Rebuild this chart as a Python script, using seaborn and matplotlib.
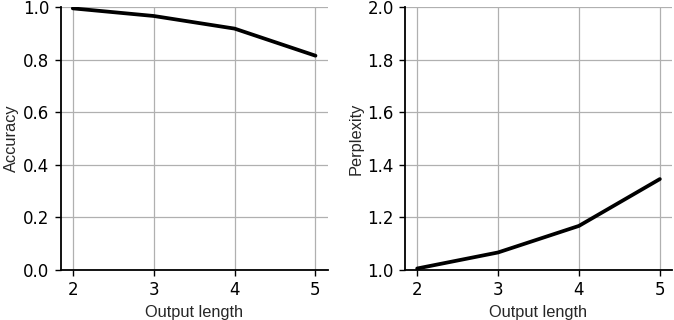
import matplotlib

matplotlib.use("Agg")
import matplotlib.pyplot as plt
import pandas as pd
import seaborn as sns

output_length = [2, 3, 4, 5]
accuracy = [0.995, 0.966, 0.918, 0.815]
perplexity = [1.006, 1.067, 1.168, 1.346]

df = pd.DataFrame(
    {"Output length": output_length, "Accuracy": accuracy, "Perplexity": perplexity}
)

sns.set_style("ticks")
plt.rcParams["font.family"] = ["DejaVu Sans"]

fig, axes = plt.subplots(1, 2, figsize=(6.74, 3.2), dpi=100)
fig.subplots_adjust(left=0.090, right=0.997, bottom=0.156, top=0.978, wspace=0.29)

panels = [("Accuracy", (0.0, 1.0)), ("Perplexity", (1.0, 2.0))]
for ax, (col, ylim) in zip(axes, panels):
    sns.lineplot(data=df, x="Output length", y=col, color="black", linewidth=2.7, ax=ax)
    ax.set_ylim(*ylim)
    ax.set_xticks(output_length)
    ax.set_yticks([ylim[0] + i * 0.2 for i in range(6)])
    ax.yaxis.set_major_formatter(matplotlib.ticker.FormatStrFormatter("%.1f"))
    ax.grid(True, color="#b0b0b0", linewidth=0.9)
    ax.set_axisbelow(True)
    sns.despine(ax=ax)
    for side in ("left", "bottom"):
        ax.spines[side].set_linewidth(1.3)
        ax.spines[side].set_color("black")
    ax.tick_params(labelsize=12, width=1.0, length=4.5, colors="black")
    ax.set_xlabel("Output length", fontsize=11.8, family="Liberation Sans")
    ax.set_ylabel(col, fontsize=11.8, family="Liberation Sans", labelpad=3)

fig.savefig("out.png", dpi=100)
